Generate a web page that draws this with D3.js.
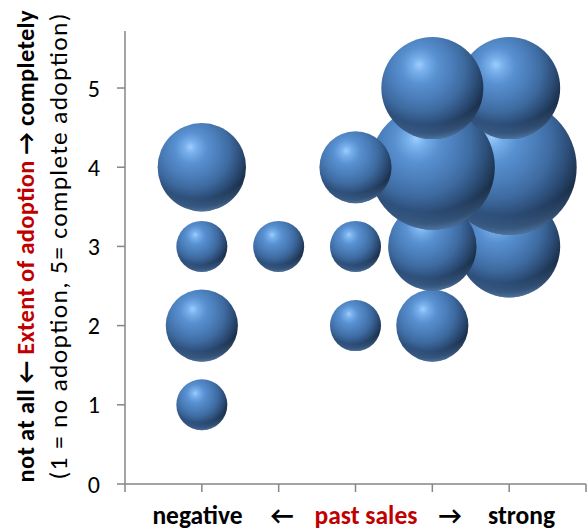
<!DOCTYPE html>
<html>
<head>
<meta charset="utf-8">
<script src="https://cdn.jsdelivr.net/npm/d3@7/dist/d3.min.js"></script>
<style>
  html, body { margin: 0; padding: 0; background: #fff; }
  svg { display: block; }
  text { font-family: Carlito, Calibri, Lato, sans-serif; }
</style>
</head>
<body>
<svg id="chart" width="587" height="531"></svg>
<script>
// Past sales category (1 = negative ... 5 = strong), adoption level, bubble size (count)
const salesLevel = [1, 1, 1, 1, 2, 3, 3, 3, 4, 4, 4, 4, 5, 5, 5];
const adoption   = [4, 3, 2, 1, 3, 4, 3, 2, 5, 4, 3, 2, 5, 4, 3];
const counts     = [3, 1, 2, 1, 1, 2, 1, 1, 4, 6, 3, 2, 4, 7, 4];
const yTicks = [0, 1, 2, 3, 4, 5];
const xTicks = [0, 1, 2, 3, 4, 5, 6];

const svg = d3.select("#chart");

const x = d3.scaleLinear().domain([0, 6]).range([125, 586]);
const y = d3.scaleLinear().domain([0, 5.72]).range([484, 31]);
const r = d3.scaleSqrt().domain([0, 7]).range([0, 67.5]);

// Sphere shading
const defs = svg.append("defs");
const body = defs.append("radialGradient").attr("id", "sphere")
  .attr("cx", "40%").attr("cy", "33%").attr("r", "70%")
  .attr("fx", "37%").attr("fy", "27%");
[[0, "#9dcdfd"], [0.1, "#78b0ec"], [0.26, "#5890d0"], [0.45, "#4a7db9"],
 [0.62, "#3d699e"], [0.78, "#2c4d77"], [0.92, "#1c314c"], [1, "#142336"]]
  .forEach(([o, c]) => body.append("stop").attr("offset", o).attr("stop-color", c));

const rim = defs.append("radialGradient").attr("id", "rim")
  .attr("cx", "45%").attr("cy", "12%").attr("r", "92%");
[[0, "#6ea6e8", 0], [0.8, "#6ea6e8", 0], [0.9, "#6ea6e8", 0.3], [1, "#8dbff5", 0.7]]
  .forEach(([o, c, a]) => rim.append("stop").attr("offset", o)
    .attr("stop-color", c).attr("stop-opacity", a));

const axisColor = "#868686";

// Y axis
const gy = svg.append("g");
gy.append("line").attr("x1", x(0)).attr("x2", x(0))
  .attr("y1", y.range()[1]).attr("y2", y(0))
  .attr("stroke", axisColor).attr("stroke-width", 1.5);
gy.selectAll("line.tick").data(yTicks).join("line").attr("class", "tick")
  .attr("x1", x(0) - 8).attr("x2", x(0))
  .attr("y1", d => y(d)).attr("y2", d => y(d))
  .attr("stroke", axisColor).attr("stroke-width", 1.5);
gy.selectAll("text").data(yTicks).join("text")
  .attr("x", 100).attr("y", d => y(d)).attr("dy", "0.36em")
  .attr("text-anchor", "end").attr("font-size", 24).attr("fill", "#000")
  .text(d => d);

// X axis
const gx = svg.append("g");
gx.append("line").attr("x1", x(0)).attr("x2", x(6))
  .attr("y1", y(0)).attr("y2", y(0))
  .attr("stroke", axisColor).attr("stroke-width", 1.5);
gx.selectAll("line.tick").data(xTicks).join("line").attr("class", "tick")
  .attr("x1", d => x(d)).attr("x2", d => x(d))
  .attr("y1", y(0)).attr("y2", y(0) + 8)
  .attr("stroke", axisColor).attr("stroke-width", 1.5);

// Bubbles: drawn row by row from the bottom, right to left within a row
const pts = salesLevel.map((s, i) => ({ s, a: adoption[i], n: counts[i] }))
  .sort((p, q) => d3.ascending(p.a, q.a) || d3.descending(p.s, q.s));

const bub = svg.append("g").selectAll("g").data(pts).join("g")
  .attr("transform", d => `translate(${x(d.s)},${y(d.a)})`);
bub.append("circle").attr("r", d => r(d.n)).attr("fill", "url(#sphere)");
bub.append("circle").attr("r", d => r(d.n)).attr("fill", "url(#rim)");

// X axis title
const xt = [
  { t: "negative", cx: 197.5, c: "#000" },
  { t: "←", cx: 282, c: "#000" },
  { t: "past sales", cx: 366, c: "#c00000" },
  { t: "→", cx: 450, c: "#000" },
  { t: "strong", cx: 521.5, c: "#000" }
];
svg.append("g").selectAll("text").data(xt).join("text")
  .attr("x", d => d.cx).attr("y", 524).attr("text-anchor", "middle")
  .attr("font-size", 25.5).attr("font-weight", "bold").attr("fill", d => d.c)
  .text(d => d.t);

// Y axis title (two lines)
const yt1 = svg.append("text")
  .attr("transform", "translate(34,246.5) rotate(-90)")
  .attr("text-anchor", "middle").attr("font-size", 24.5).attr("font-weight", "bold")
  .attr("textLength", 472).attr("lengthAdjust", "spacing");
yt1.append("tspan").attr("fill", "#000").text("not at all ← ");
yt1.append("tspan").attr("fill", "#c00000").text("Extent of adoption");
yt1.append("tspan").attr("fill", "#000").text(" → completely");

svg.append("text")
  .attr("transform", "translate(67,246.5) rotate(-90)")
  .attr("text-anchor", "middle").attr("font-size", 25.5).attr("fill", "#000")
  .attr("textLength", 466).attr("lengthAdjust", "spacing")
  .text("(1 = no adoption, 5= complete adoption)");
</script>
</body>
</html>
